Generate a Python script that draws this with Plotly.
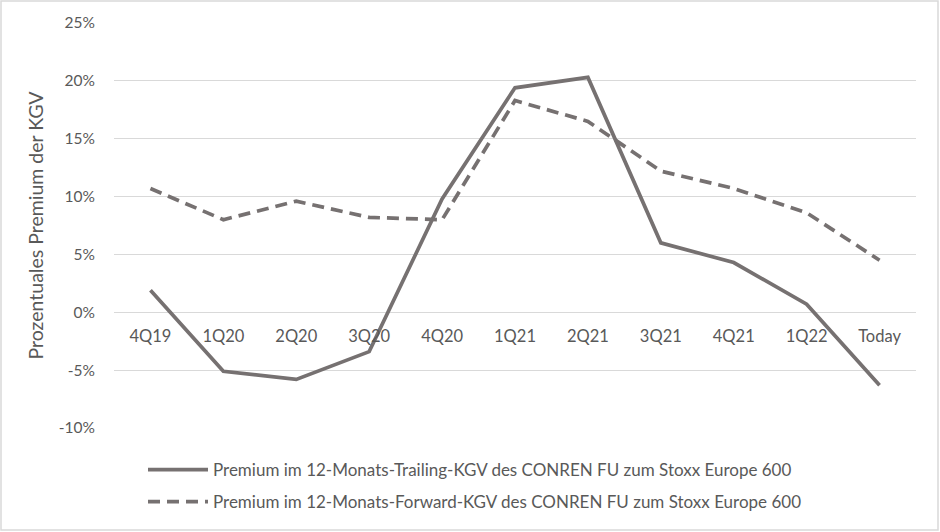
import plotly.graph_objects as go

categories = ["4Q19", "1Q20", "2Q20", "3Q20", "4Q20", "1Q21", "2Q21", "3Q21", "4Q21", "1Q22", "Today"]
trailing = [1.9, -5.1, -5.8, -3.4, 9.8, 19.4, 20.3, 6.0, 4.3, 0.7, -6.3]
forward = [10.7, 8.0, 9.6, 8.2, 8.0, 18.3, 16.5, 12.2, 10.7, 8.6, 4.5]
y_ticks = [-10, -5, 0, 5, 10, 15, 20, 25]
y_tick_labels = [f"{v}%" for v in y_ticks]
name_trailing = "Premium im 12-Monats-Trailing-KGV des CONREN FU zum Stoxx Europe 600"
name_forward = "Premium im 12-Monats-Forward-KGV des CONREN FU zum Stoxx Europe 600"

W, H = 940, 532
ML, MR, MT, MB = 114, 24, 23, 104
ph = H - MT - MB
pw = W - ML - MR

LINE = "#767171"
TXT = "#595959"
FONT = "Lato"

fig = go.Figure()
fig.add_trace(go.Scatter(x=categories, y=trailing, mode="lines", name=name_trailing,
                         line=dict(color=LINE, width=3.7), legend="legend"))
fig.add_trace(go.Scatter(x=categories, y=forward, mode="lines", name=name_forward,
                         line=dict(color=LINE, width=3.7, dash="12px,7px"), legend="legend2"))

def py2paper(py):
    return (H - MB - py) / ph

def px2paper(px):
    return (px - ML) / pw

zero_pos = (0 - (-10)) / 35

fig.update_layout(
    width=W, height=H,
    margin=dict(l=ML, r=MR, t=MT, b=MB),
    paper_bgcolor="white", plot_bgcolor="white",
    font=dict(family=FONT, size=16, color=TXT),
    xaxis=dict(type="category", anchor="free", position=zero_pos, showgrid=False,
               showline=False, ticks="", tickfont=dict(size=16.5, color=TXT),
               ticklabelstandoff=12,
               range=[-0.5, len(categories) - 0.5], fixedrange=True),
    yaxis=dict(range=[-10, 25], tickvals=y_ticks, ticktext=y_tick_labels,
               showgrid=True, gridcolor="#d9d9d9", gridwidth=1, zeroline=False,
               showline=False, ticks="", ticklabelstandoff=18,
               tickfont=dict(size=15.5, color=TXT), fixedrange=True,
               title=dict(text="Prozentuales Premium der KGV", font=dict(size=19.5, color=TXT), standoff=10)),
    legend=dict(x=px2paper(143), y=py2paper(470), xanchor="left", yanchor="middle",
                orientation="v", itemwidth=60, font=dict(size=17, color=TXT), bgcolor="rgba(0,0,0,0)"),
    legend2=dict(x=px2paper(143), y=py2paper(502), xanchor="left", yanchor="middle",
                 orientation="v", itemwidth=60, font=dict(size=17, color=TXT), bgcolor="rgba(0,0,0,0)"),
    showlegend=True,
    shapes=[dict(type="rect", xref="paper", yref="paper",
                 x0=px2paper(1), x1=px2paper(938), y0=py2paper(530), y1=py2paper(1),
                 line=dict(color="#d9d9d9", width=1.5), fillcolor="rgba(0,0,0,0)", layer="below")],
)

fig.write_html("out.html", config={"displayModeBar": False},
               post_script="document.body.style.margin='0';")
